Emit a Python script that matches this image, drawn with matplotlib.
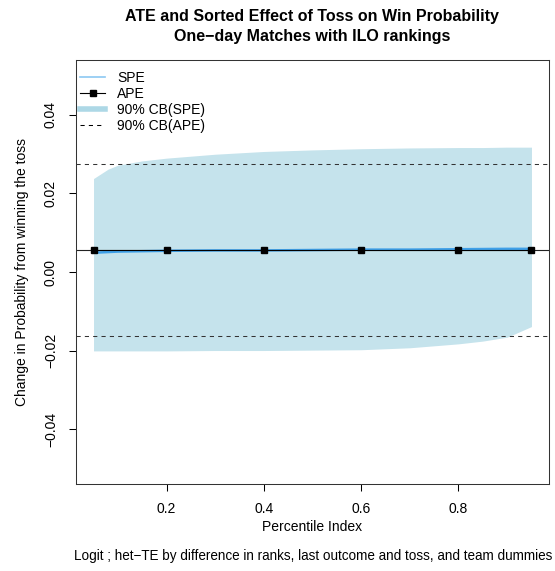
import matplotlib
matplotlib.use("Agg")
import matplotlib.pyplot as plt
from matplotlib.lines import Line2D
import numpy as np

plt.rcParams['font.family'] = ['Liberation Sans', 'DejaVu Sans']

# Sorted partial effects (SPE) over percentile index
spe_pct = [0.05, 0.10, 0.20, 0.30, 0.40, 0.50, 0.60, 0.70, 0.80, 0.90, 0.95]
spe_val = [0.0049, 0.0052, 0.0054, 0.0055, 0.0055, 0.0056, 0.0057, 0.0057, 0.0058, 0.0059, 0.0059]

# 90% confidence band for the SPE
cb_pct = [0.05, 0.08, 0.10, 0.15, 0.20, 0.30, 0.40, 0.50, 0.60, 0.70, 0.80, 0.85, 0.90, 0.95]
cb_upper = [0.0238, 0.0262, 0.0272, 0.0283, 0.0290, 0.0300, 0.0307, 0.0311, 0.0314, 0.0316, 0.0317, 0.0317, 0.0318, 0.0318]
cb_lower = [-0.0201, -0.0201, -0.0201, -0.0201, -0.0201, -0.0200, -0.0200, -0.0199, -0.0198, -0.0193, -0.0183, -0.0176, -0.0166, -0.0139]

# Average partial effect (APE) and its 90% confidence bounds
ape_pct = [0.05, 0.20, 0.40, 0.60, 0.80, 0.95]
ape_value = 0.0055
ape_cb = [-0.0164, 0.0275]

x_ticks = [0.2, 0.4, 0.6, 0.8]
y_ticks = [-0.04, -0.02, 0.00, 0.02, 0.04]

W, H = 555, 571
fig = plt.figure(figsize=(W / 100, H / 100), dpi=100)
ax = fig.add_axes([76 / W, 1 - 484 / H, (549 - 76) / W, (484 - 60) / H])

band_col = '#C5E3EC'
spe_col = '#3FA0E8'
fs = 10

ax.fill_between(cb_pct, cb_lower, cb_upper, color=band_col, lw=0)
ax.axhline(ape_value, color='#222222', lw=0.8)
for b in ape_cb:
    ax.axhline(b, color='#333333', lw=0.75, dashes=(4, 4))
ax.plot(spe_pct, spe_val, color=spe_col, lw=1.8)
ax.plot(ape_pct, [ape_value] * len(ape_pct), color='black', lw=0.8,
        marker='s', markersize=4.6)

ax.set_xlim(0.05 - 0.036, 0.95 + 0.036)
ax.set_ylim(-0.054, 0.054)
ax.set_xticks(x_ticks)
ax.set_xticklabels(['0.2', '0.4', '0.6', '0.8'])
ax.set_yticks(y_ticks)
ax.set_yticklabels(['\u22120.04', '\u22120.02', '0.00', '0.02', '0.04'],
                   rotation=90, va='center')
ax.tick_params(axis='both', direction='out', length=5, width=0.75,
               labelsize=fs, colors='black')
ax.tick_params(axis='x', pad=8)
ax.tick_params(axis='y', pad=8)
for s in ax.spines.values():
    s.set_linewidth(0.75)
    s.set_color('#333333')

ax.set_ylabel('Change in Probability from winning the toss', fontsize=fs, labelpad=11)

fig.text(312 / W, 1 - 17 / H, 'ATE and Sorted Effect of Toss on Win Probability',
         ha='center', va='center', fontsize=11.5, fontweight='bold')
fig.text(312 / W, 1 - 37 / H, 'One\u2212day Matches with ILO rankings',
         ha='center', va='center', fontsize=11.5, fontweight='bold')
fig.text(312 / W, 1 - 527 / H, 'Percentile Index', ha='center', va='center', fontsize=fs)
fig.text(313 / W, 1 - 556 / H,
         'Logit ; het\u2212TE by difference in ranks, last outcome and toss, and team dummies',
         ha='center', va='center', fontsize=9.75)

handles = [
    Line2D([], [], color='#8CC8F2', lw=1.2),
    Line2D([], [], color='black', lw=0.8, marker='s', markersize=4.6),
    Line2D([], [], color='#ADD8E6', lw=4),
    Line2D([], [], color='black', lw=0.75, dashes=(4, 4)),
]
labels = ['SPE', 'APE', '90% CB(SPE)', '90% CB(APE)']
ax.legend(handles, labels, loc='upper left', bbox_to_anchor=(0.0, 0.985),
          frameon=False, fontsize=fs, handlelength=1.8, handletextpad=0.85,
          labelspacing=0.15, borderaxespad=0.2, borderpad=0.1)

fig.savefig('out.png', dpi=100)
